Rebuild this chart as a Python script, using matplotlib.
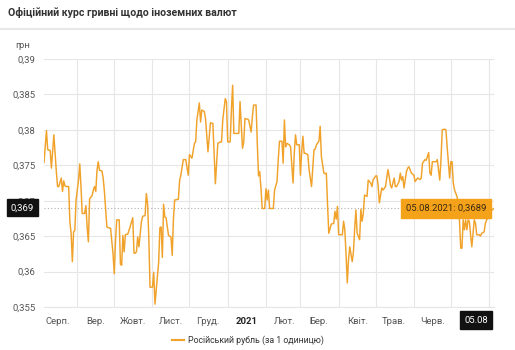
import matplotlib
matplotlib.use("Agg")
import matplotlib.pyplot as plt
import matplotlib.dates as mdates
from matplotlib.ticker import FuncFormatter, FixedLocator
import pandas as pd
import numpy as np

plt.rcParams['font.family'] = ['Roboto', 'DejaVu Sans']

title = "Офіційний курс гривні щодо іноземних валют"
unit_label = "грн"
series_name = "Російський рубль (за 1 одиницю)"
start_date = "2020-08-05"

# day offsets from start_date and rate values
days = [0, 2, 3, 5, 6, 8, 10, 11, 12, 14, 15, 16, 17, 18, 20, 21, 22, 23, 24, 25,
        26, 28, 29, 30, 31, 33, 34, 35, 36, 37, 39, 40, 41, 42, 43, 44, 45, 47, 48, 49,
        50, 51, 52, 54, 56, 57, 58, 59, 61, 62, 63, 64, 65, 66, 68, 70, 72, 73, 74, 75,
        76, 77, 79, 80, 82, 83, 84, 85, 86, 88, 89, 90, 92, 93, 94, 95, 96, 97, 98, 99,
        101, 103, 104, 105, 106, 109, 110, 111, 113, 115, 117, 118, 120, 122, 123, 124, 126, 127, 128, 130,
        131, 133, 134, 135, 137, 139, 141, 143, 144, 145, 147, 148, 149, 151, 152, 153, 154, 156, 158, 159,
        161, 162, 163, 165, 166, 168, 169, 170, 172, 173, 174, 175, 176, 177, 179, 180, 181, 182, 183, 185,
        186, 187, 189, 190, 191, 193, 194, 195, 196, 197, 199, 200, 202, 203, 204, 205, 207, 208, 209, 210,
        211, 212, 214, 215, 217, 218, 219, 220, 221, 223, 224, 225, 227, 228, 229, 230, 231, 233, 235, 236,
        237, 238, 239, 242, 243, 244, 245, 246, 247, 248, 250, 251, 252, 253, 254, 256, 257, 258, 259, 260,
        261, 262, 263, 265, 266, 267, 268, 269, 270, 271, 272, 274, 275, 277, 279, 280, 281, 282, 284, 285,
        286, 288, 289, 290, 291, 292, 294, 295, 296, 298, 300, 301, 303, 305, 306, 307, 309, 310, 312, 313,
        314, 315, 317, 318, 319, 321, 322, 323, 325, 326, 327, 329, 330, 331, 332, 333, 335, 336, 337, 338,
        339, 340, 341, 342, 343, 344, 345, 346, 347, 348, 349, 350, 351, 353, 354, 355, 357, 358, 359, 360,
        361, 362, 365]

rates = [0.3754, 0.3799, 0.3772, 0.3771, 0.3746, 0.3793, 0.3741, 0.3720, 0.3720, 0.3732,
         0.3713, 0.3728, 0.3721, 0.3720, 0.3720, 0.3670, 0.3654, 0.3614, 0.3656, 0.3658,
         0.3701, 0.3729, 0.3752, 0.3720, 0.3682, 0.3682, 0.3693, 0.3663, 0.3642, 0.3703,
         0.3707, 0.3715, 0.3720, 0.3713, 0.3743, 0.3755, 0.3743, 0.3742, 0.3732, 0.3713,
         0.3689, 0.3663, 0.3662, 0.3661, 0.3625, 0.3597, 0.3644, 0.3673, 0.3673, 0.3610,
         0.3609, 0.3651, 0.3628, 0.3652, 0.3653, 0.3664, 0.3676, 0.3626, 0.3626, 0.3628,
         0.3649, 0.3635, 0.3670, 0.3678, 0.3679, 0.3710, 0.3696, 0.3649, 0.3578, 0.3578,
         0.3599, 0.3554, 0.3594, 0.3613, 0.3662, 0.3663, 0.3620, 0.3695, 0.3677, 0.3676,
         0.3651, 0.3649, 0.3623, 0.3675, 0.3701, 0.3702, 0.3729, 0.3736, 0.3758, 0.3758,
         0.3736, 0.3765, 0.3760, 0.3781, 0.3783, 0.3814, 0.3838, 0.3811, 0.3828, 0.3826,
         0.3816, 0.3769, 0.3790, 0.3810, 0.3809, 0.3724, 0.3781, 0.3783, 0.3783, 0.3814,
         0.3844, 0.3840, 0.3783, 0.3783, 0.3828, 0.3863, 0.3795, 0.3795, 0.3795, 0.3840,
         0.3774, 0.3783, 0.3816, 0.3815, 0.3814, 0.3797, 0.3818, 0.3835, 0.3835, 0.3781,
         0.3735, 0.3741, 0.3717, 0.3689, 0.3689, 0.3717, 0.3701, 0.3715, 0.3689, 0.3689,
         0.3689, 0.3715, 0.3727, 0.3758, 0.3784, 0.3784, 0.3753, 0.3814, 0.3776, 0.3781,
         0.3779, 0.3776, 0.3725, 0.3767, 0.3793, 0.3779, 0.3779, 0.3736, 0.3769, 0.3791,
         0.3767, 0.3767, 0.3765, 0.3744, 0.3720, 0.3746, 0.3772, 0.3773, 0.3779, 0.3784,
         0.3805, 0.3762, 0.3739, 0.3738, 0.3739, 0.3694, 0.3654, 0.3667, 0.3668, 0.3685,
         0.3674, 0.3692, 0.3652, 0.3652, 0.3671, 0.3659, 0.3624, 0.3584, 0.3617, 0.3635,
         0.3614, 0.3628, 0.3661, 0.3687, 0.3654, 0.3645, 0.3688, 0.3671, 0.3682, 0.3708,
         0.3707, 0.3706, 0.3729, 0.3725, 0.3720, 0.3730, 0.3732, 0.3735, 0.3735, 0.3722,
         0.3697, 0.3718, 0.3715, 0.3720, 0.3744, 0.3734, 0.3722, 0.3718, 0.3732, 0.3720,
         0.3720, 0.3727, 0.3739, 0.3729, 0.3734, 0.3718, 0.3741, 0.3746, 0.3748, 0.3739,
         0.3736, 0.3727, 0.3732, 0.3730, 0.3732, 0.3753, 0.3758, 0.3757, 0.3768, 0.3739,
         0.3736, 0.3755, 0.3755, 0.3755, 0.3758, 0.3729, 0.3758, 0.3800, 0.3801, 0.3800,
         0.3776, 0.3732, 0.3755, 0.3755, 0.3725, 0.3715, 0.3706, 0.3696, 0.3673, 0.3633,
         0.3633, 0.3673, 0.3659, 0.3673, 0.3659, 0.3673, 0.3671, 0.3652, 0.3635, 0.3654,
         0.3673, 0.3668, 0.3652, 0.3652, 0.3650, 0.3654, 0.3656, 0.3668, 0.3673, 0.3675,
         0.3687, 0.3685, 0.3689]

month_labels = ["Серп.", "Вер.", "Жовт.", "Лист.", "Груд.", "2021",
                "Лют.", "Бер.", "Квіт.", "Трав.", "Черв."]
y_ticks = [0.355, 0.36, 0.365, 0.37, 0.375, 0.38, 0.385, 0.39]
crosshair_value = 0.369
tooltip_text = "05.08.2021: 0,3689"
crosshair_date_label = "05.08"

start = pd.Timestamp(start_date)
dates = start + pd.to_timedelta(days, unit="D")
end = dates[-1]

fig = plt.figure(figsize=(5.15, 3.5), dpi=100)
ax = fig.add_axes([44/515, 1-307/350, 450/515, 248/350])

line_color = "#F0A22A"
ax.plot(dates, rates, color=line_color, lw=1.05, solid_joinstyle="round", zorder=3)

ax.set_xlim(start, end)
ax.set_ylim(y_ticks[0], y_ticks[-1])

# y axis
ax.set_yticks(y_ticks)
ax.yaxis.set_major_formatter(FuncFormatter(lambda v, p: f"{v:g}".replace(".", ",")))
ax.tick_params(axis="y", length=0, pad=6, labelsize=6.8, labelcolor="#555555")

# x axis: gridlines at month starts, labels at mid-month
month_starts = pd.date_range("2020-09-01", "2021-08-01", freq="MS")
ax.xaxis.set_major_locator(FixedLocator(mdates.date2num(month_starts)))
ax.xaxis.set_major_formatter(FuncFormatter(lambda v, p: ""))
label_pos = [pd.Timestamp(f"{d.year}-{d.month:02d}-16")
             for d in pd.date_range("2020-08-01", periods=len(month_labels), freq="MS")]
ax.set_xticks(mdates.date2num(label_pos), labels=month_labels, minor=True)
ax.tick_params(axis="x", which="both", length=0, pad=7, labelsize=6.8, labelcolor="#555555")
for lbl in ax.get_xticklabels(minor=True):
    if lbl.get_text() == "2021":
        lbl.set_fontweight("bold")
        lbl.set_color("#222222")

ax.grid(True, which="major", color="#e6e6e6", lw=0.8)
for s in ["top", "right", "left"]:
    ax.spines[s].set_visible(False)
ax.spines["bottom"].set_color("#e6e6e6")
ax.spines["bottom"].set_linewidth(0.8)
ax.set_axisbelow(True)

# crosshairs
ax.axhline(crosshair_value, color="#b0b0b0", lw=0.8, ls=(0, (1, 2)), zorder=2)
ax.axvline(end, color="#b0b0b0", lw=0.8, ls=(0, (1, 2)), zorder=2)

# crosshair labels
ax.annotate(f"{crosshair_value:g}".replace(".", ","), xy=(0, crosshair_value), xycoords=("axes fraction", "data"),
            xytext=(-15.5, 0), textcoords="offset points", ha="center", va="center",
            fontsize=6.8, color="white",
            bbox=dict(boxstyle="square,pad=0.42", fc="#111111", ec="#111111"), annotation_clip=False, zorder=6)
ax.annotate(crosshair_date_label, xy=(1, 0), xycoords="axes fraction",
            xytext=(-13, -9.5), textcoords="offset points", ha="center", va="center",
            fontsize=6.8, color="white",
            bbox=dict(boxstyle="square,pad=0.45", fc="#111111", ec="#111111"), annotation_clip=False, zorder=6)

# tooltip
ax.annotate(tooltip_text, xy=(end, rates[-1]), xytext=(-34.5, 0), textcoords="offset points",
            ha="center", va="center", fontsize=6.8, color="#3a2a10",
            bbox=dict(boxstyle="square,pad=0.5", fc="#F5A21B", ec="#F5A21B"), zorder=7)

# title, separator, unit
fig.text(8/515, 1-13/350, title, fontsize=7.6, fontweight="bold", color="#333333", va="center", ha="left")
fig.add_artist(plt.Line2D([0, 1], [1-28.5/350, 1-28.5/350], color="#e8e8e8", lw=1.5))
fig.text(15/515, 1-45/350, unit_label, fontsize=6.8, color="#555555", va="center", ha="left")

# legend
fig.legend(handles=[plt.Line2D([], [], color=line_color, lw=1.5)], labels=[series_name],
           loc="center", bbox_to_anchor=(248/515, 1-340/350), frameon=False,
           fontsize=6.3, handlelength=1.3, handletextpad=0.5, labelcolor="#333333")

fig.savefig("out.png", dpi=100, facecolor="white")
